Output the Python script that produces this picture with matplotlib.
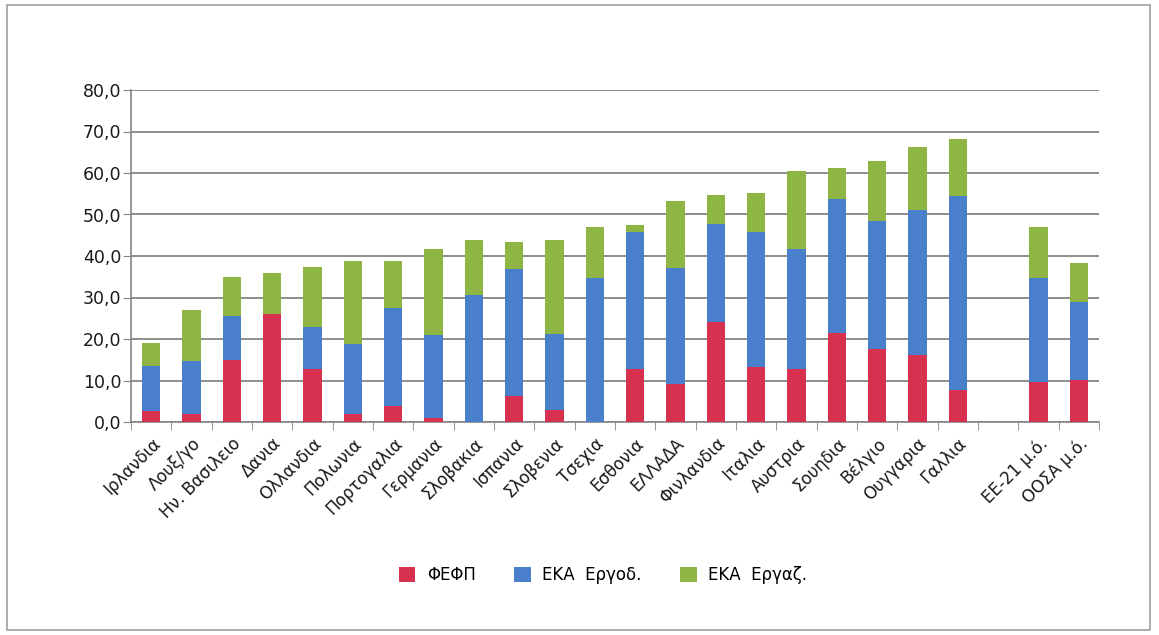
import matplotlib
matplotlib.use('Agg')
import matplotlib.pyplot as plt
import matplotlib.patches as mpatches
import numpy as np
from matplotlib.ticker import FuncFormatter, FixedLocator

# categories (empty slot separates the averages)
countries = [
    'Ιρλανδια', 'Λουξ/γο', 'Ην. Βασιλειο', 'Δανια', 'Ολλανδια', 'Πολωνια',
    'Πορτογαλια', 'Γερμανια', 'Σλοβακια', 'Ισπανια', 'Σλοβενια', 'Τσεχια',
    'Εσθονια', 'ΕΛΛΑΔΑ', 'Φινλανδια', 'Ιταλια', 'Αυστρια', 'Σουηδια',
    'Βέλγιο', 'Ουγγαρια', 'Γαλλια', '', 'ΕΕ-21 μ.ό.', 'ΟΟΣΑ μ.ό.',
]

# stacked segments
fefp = [2.7, 2.0, 15.0, 26.0, 12.7, 2.0, 3.8, 1.0, 0.0, 6.2, 3.0, 0.0,
        12.7, 9.2, 24.0, 13.2, 12.7, 21.4, 17.5, 16.1, 7.6, 0.0, 9.6, 10.2]
eka_ergod = [10.9, 12.7, 10.5, 0.0, 10.1, 16.7, 23.6, 20.0, 30.6, 30.6, 18.2, 34.6,
             33.1, 27.8, 23.8, 32.6, 29.1, 32.4, 31.0, 34.9, 46.9, 0.0, 25.0, 18.6]
eka_ergaz = [5.4, 12.3, 9.5, 10.0, 14.6, 20.1, 11.4, 20.8, 13.2, 6.6, 22.6, 12.3,
             1.6, 16.3, 7.0, 9.4, 18.6, 7.4, 14.3, 15.3, 13.8, 0.0, 12.3, 9.6]

red = '#d8304f'
blue = '#4a7fcc'
green = '#8fb545'

fig = plt.figure(figsize=(11.59, 6.35), dpi=100)
fig.patch.set_facecolor('white')

# outer chart border
fig.add_artist(mpatches.Rectangle(
    (7 / 1159, 5 / 635), 1143 / 1159, 625 / 635,
    transform=fig.transFigure, fill=False, edgecolor='#a0a0a0', linewidth=1.2
))

ax = fig.add_axes([131 / 1159, 1 - 422 / 635, 968 / 1159, 332 / 635])

x = np.arange(len(countries))
w = 0.45
b1 = np.array(fefp)
b2 = b1 + np.array(eka_ergod)
ax.bar(x, fefp, width=w, color=red, label='ΦΕΦΠ', zorder=3)
ax.bar(x, eka_ergod, width=w, bottom=b1, color=blue, label='ΕΚΑ  Εργοδ.', zorder=3)
ax.bar(x, eka_ergaz, width=w, bottom=b2, color=green, label='ΕΚΑ  Εργαζ.', zorder=3)

ax.set_xlim(-0.5, len(countries) - 0.5)
ax.set_ylim(0, 80)
ax.set_yticks(np.arange(0, 81, 10))
ax.yaxis.set_major_formatter(FuncFormatter(lambda v, p: f'{v:.1f}'.replace('.', ',')))
ax.grid(axis='y', color='#858585', linewidth=1.3, zorder=0)

for s in ['top', 'right']:
    ax.spines[s].set_visible(False)
ax.spines['left'].set_color('#858585')
ax.spines['bottom'].set_color('#858585')
ax.spines['left'].set_linewidth(1.2)
ax.spines['bottom'].set_linewidth(1.2)

ax.tick_params(axis='y', length=6, color='#858585', labelsize=12.5, pad=1,
               labelcolor='#1a1a1a')
# category labels, tick marks between categories
ax.set_xticks(x)
ax.set_xticklabels(countries, rotation=45, ha='right', rotation_mode='anchor',
                   fontsize=12, color='#1a1a1a')
ax.tick_params(axis='x', which='major', length=0, pad=9)
ax.xaxis.set_minor_locator(FixedLocator(np.arange(-0.5, len(countries), 1.0)))
ax.tick_params(axis='x', which='minor', length=6, color='#858585')

fig.legend(loc='center', bbox_to_anchor=(603 / 1159, 1 - 575 / 635), ncol=3,
           frameon=False, fontsize=12, handlelength=1.0, handleheight=1.0,
           columnspacing=2.3, handletextpad=0.7)

fig.savefig('out.png', dpi=100)
